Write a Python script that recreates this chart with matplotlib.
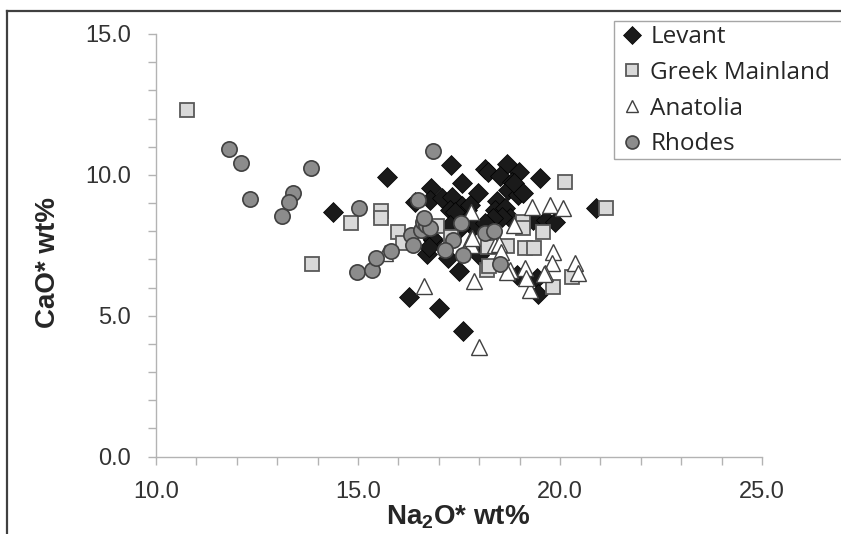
import matplotlib
matplotlib.use('Agg')
import matplotlib.pyplot as plt
from matplotlib.ticker import MultipleLocator, FormatStrFormatter
from matplotlib.lines import Line2D
from matplotlib.patches import Rectangle

plt.rcParams['font.family'] = ['Liberation Sans', 'DejaVu Sans']
plt.rcParams['mathtext.fontset'] = 'custom'
plt.rcParams['mathtext.rm'] = 'Liberation Sans:bold'
plt.rcParams['mathtext.it'] = 'Liberation Sans:bold'
plt.rcParams['mathtext.bf'] = 'Liberation Sans:bold'

# ---------------- data ----------------
series_names = ['Levant', 'Greek Mainland', 'Anatolia', 'Rhodes']

levant_x = [14.37, 15.73, 16.27, 17.01, 17.59, 17.30, 18.14, 18.22, 18.70, 18.52,
            18.99, 19.50, 16.80, 17.58, 17.96, 16.41, 16.78, 17.07, 17.33, 17.28,
            17.57, 17.69, 17.40, 18.80, 18.72, 18.97, 18.43, 18.39, 18.64, 18.76,
            18.56, 18.35, 17.85, 17.52, 17.28, 16.86, 19.34, 19.65, 19.88, 20.88,
            16.70, 17.24, 17.50, 18.93, 19.44, 19.46, 17.77, 18.85, 19.09, 16.82,
            18.00, 18.15, 16.75]
levant_y = [8.68, 9.93, 5.67, 5.26, 4.46, 10.36, 10.20, 10.10, 10.37, 9.95,
            10.09, 9.88, 9.55, 9.70, 9.35, 9.05, 9.11, 9.17, 9.22, 8.75,
            8.90, 8.75, 8.69, 9.76, 9.46, 9.28, 9.08, 8.75, 8.81, 8.46,
            8.51, 8.46, 8.16, 8.10, 8.22, 7.69, 8.40, 8.40, 8.34, 8.81,
            7.20, 7.04, 6.58, 6.44, 6.33, 5.78, 8.93, 9.70, 9.34, 7.74,
            7.15, 8.28, 7.45]

greek_x = [10.77, 13.87, 14.82, 15.56, 15.56, 16.00, 16.11, 16.95, 20.12, 21.14,
           19.09, 19.09, 19.57, 18.22, 18.68, 19.13, 19.36, 18.20, 18.25, 19.83,
           20.29, 17.29]
greek_y = [12.30, 6.84, 8.30, 8.70, 8.45, 7.98, 7.57, 8.20, 9.76, 8.81,
           8.34, 8.12, 7.98, 7.45, 7.47, 7.39, 7.41, 6.62, 6.75, 6.03,
           6.36, 7.78]

anatolia_x = [16.63, 18.00, 17.87, 19.30, 19.75, 20.07, 18.85, 18.39, 17.77, 19.83,
              19.79, 20.37, 20.45, 19.13, 19.26, 19.63, 18.76, 15.67, 17.79, 17.82,
              18.49, 18.55, 19.15, 17.80, 19.60, 18.69]
anatolia_y = [6.06, 3.90, 6.23, 8.87, 8.93, 8.81, 8.22, 7.51, 7.69, 7.27,
              6.86, 6.86, 6.50, 6.68, 5.91, 6.50, 6.62, 7.21, 7.52, 7.74,
              7.56, 7.26, 6.35, 8.68, 6.47, 6.55]

rhodes_x = [11.81, 12.11, 13.84, 12.33, 13.39, 13.30, 13.12, 15.03, 16.85, 16.49,
            14.97, 15.34, 15.45, 15.81, 16.30, 16.37, 16.55, 16.62, 16.68, 16.78,
            17.54, 17.36, 17.15, 17.59, 18.14, 18.37, 18.51, 16.63]
rhodes_y = [10.92, 10.42, 10.24, 9.13, 9.34, 9.05, 8.53, 8.83, 10.84, 9.11,
            6.56, 6.62, 7.03, 7.30, 7.86, 7.51, 8.04, 8.34, 8.22, 8.10,
            8.28, 7.69, 7.33, 7.15, 7.92, 8.02, 6.83, 8.46]

x_ticks = [10.0, 15.0, 20.0, 25.0]
y_ticks = [0.0, 5.0, 10.0, 15.0]

# ---------------- figure ----------------
W, H = 841, 534
fig = plt.figure(figsize=(W / 100, H / 100), dpi=100)
fig.patch.set_facecolor('white')

# chart-area border (cut by the image on the right and bottom)
bx = 6.5 / W
by = 1 - 11 / H
fig.add_artist(Line2D([bx, bx], [0, by], transform=fig.transFigure, color='#404040', lw=1.6))
fig.add_artist(Line2D([bx, 1.0], [by, by], transform=fig.transFigure, color='#404040', lw=1.6))

ax = fig.add_axes([156 / W, 1 - 456.5 / H, (762 - 156) / W, (456.5 - 34) / H])

h1, = ax.plot(levant_x, levant_y, linestyle='none', marker='D', ms=10.2,
              mfc='#1a1a1a', mec='#000000', mew=0.5)
h2, = ax.plot(greek_x, greek_y, linestyle='none', marker='s', ms=10,
              mfc='#d9d9d9', mec='#595959', mew=1.3)
h3, = ax.plot(anatolia_x, anatolia_y, linestyle='none', marker='^', ms=11,
              mfc='white', mec='#404040', mew=1.0)
h4, = ax.plot(rhodes_x, rhodes_y, linestyle='none', marker='o', ms=11,
              mfc='#8c8c8c', mec='#404040', mew=1.2)

ax.set_xlim(10, 25)
ax.set_ylim(0, 15)
ax.set_xticks(x_ticks)
ax.set_yticks(y_ticks)
ax.xaxis.set_minor_locator(MultipleLocator(1))
ax.yaxis.set_minor_locator(MultipleLocator(1))
ax.xaxis.set_major_formatter(FormatStrFormatter('%.1f'))
ax.yaxis.set_major_formatter(FormatStrFormatter('%.1f'))

for side in ['top', 'right']:
    ax.spines[side].set_visible(False)
for side in ['left', 'bottom']:
    ax.spines[side].set_color('#b3b3b3')
    ax.spines[side].set_linewidth(1.0)

ax.tick_params(which='both', direction='out', length=6, width=1.0, color='#b3b3b3')
ax.tick_params(which='major', labelsize=17, labelcolor='#333333', pad=12)

fig.text(48 / W, 1 - 262 / H, 'CaO* wt%', rotation=90, ha='center', va='center',
         fontsize=20, fontweight='bold', color='#262626')
fig.text(458 / W, 1 - 517 / H, 'Na$_2$O* wt%', ha='center', va='center',
         fontsize=20, fontweight='bold', color='#262626')

# legend frame (cut by the right edge of the image, as in the original)
fig.add_artist(Rectangle((614 / W, 1 - 159 / H), 240 / W, (159 - 20.7) / H,
                         transform=fig.transFigure, fill=False,
                         edgecolor='#a6a6a6', lw=1.0))
leg = fig.legend([h1, h2, h3, h4], series_names, loc='upper left',
                 bbox_to_anchor=(614 / W, 1 - 18 / H), bbox_transform=fig.transFigure,
                 prop={'family': ['Open Sans', 'DejaVu Sans'], 'size': 17.5},
                 frameon=False, borderpad=0.3, labelspacing=0.48, handlelength=0.85,
                 handletextpad=0.35, markerscale=0.85, borderaxespad=0)
for t in leg.get_texts():
    t.set_color('#262626')

fig.savefig('out.png', dpi=100)
